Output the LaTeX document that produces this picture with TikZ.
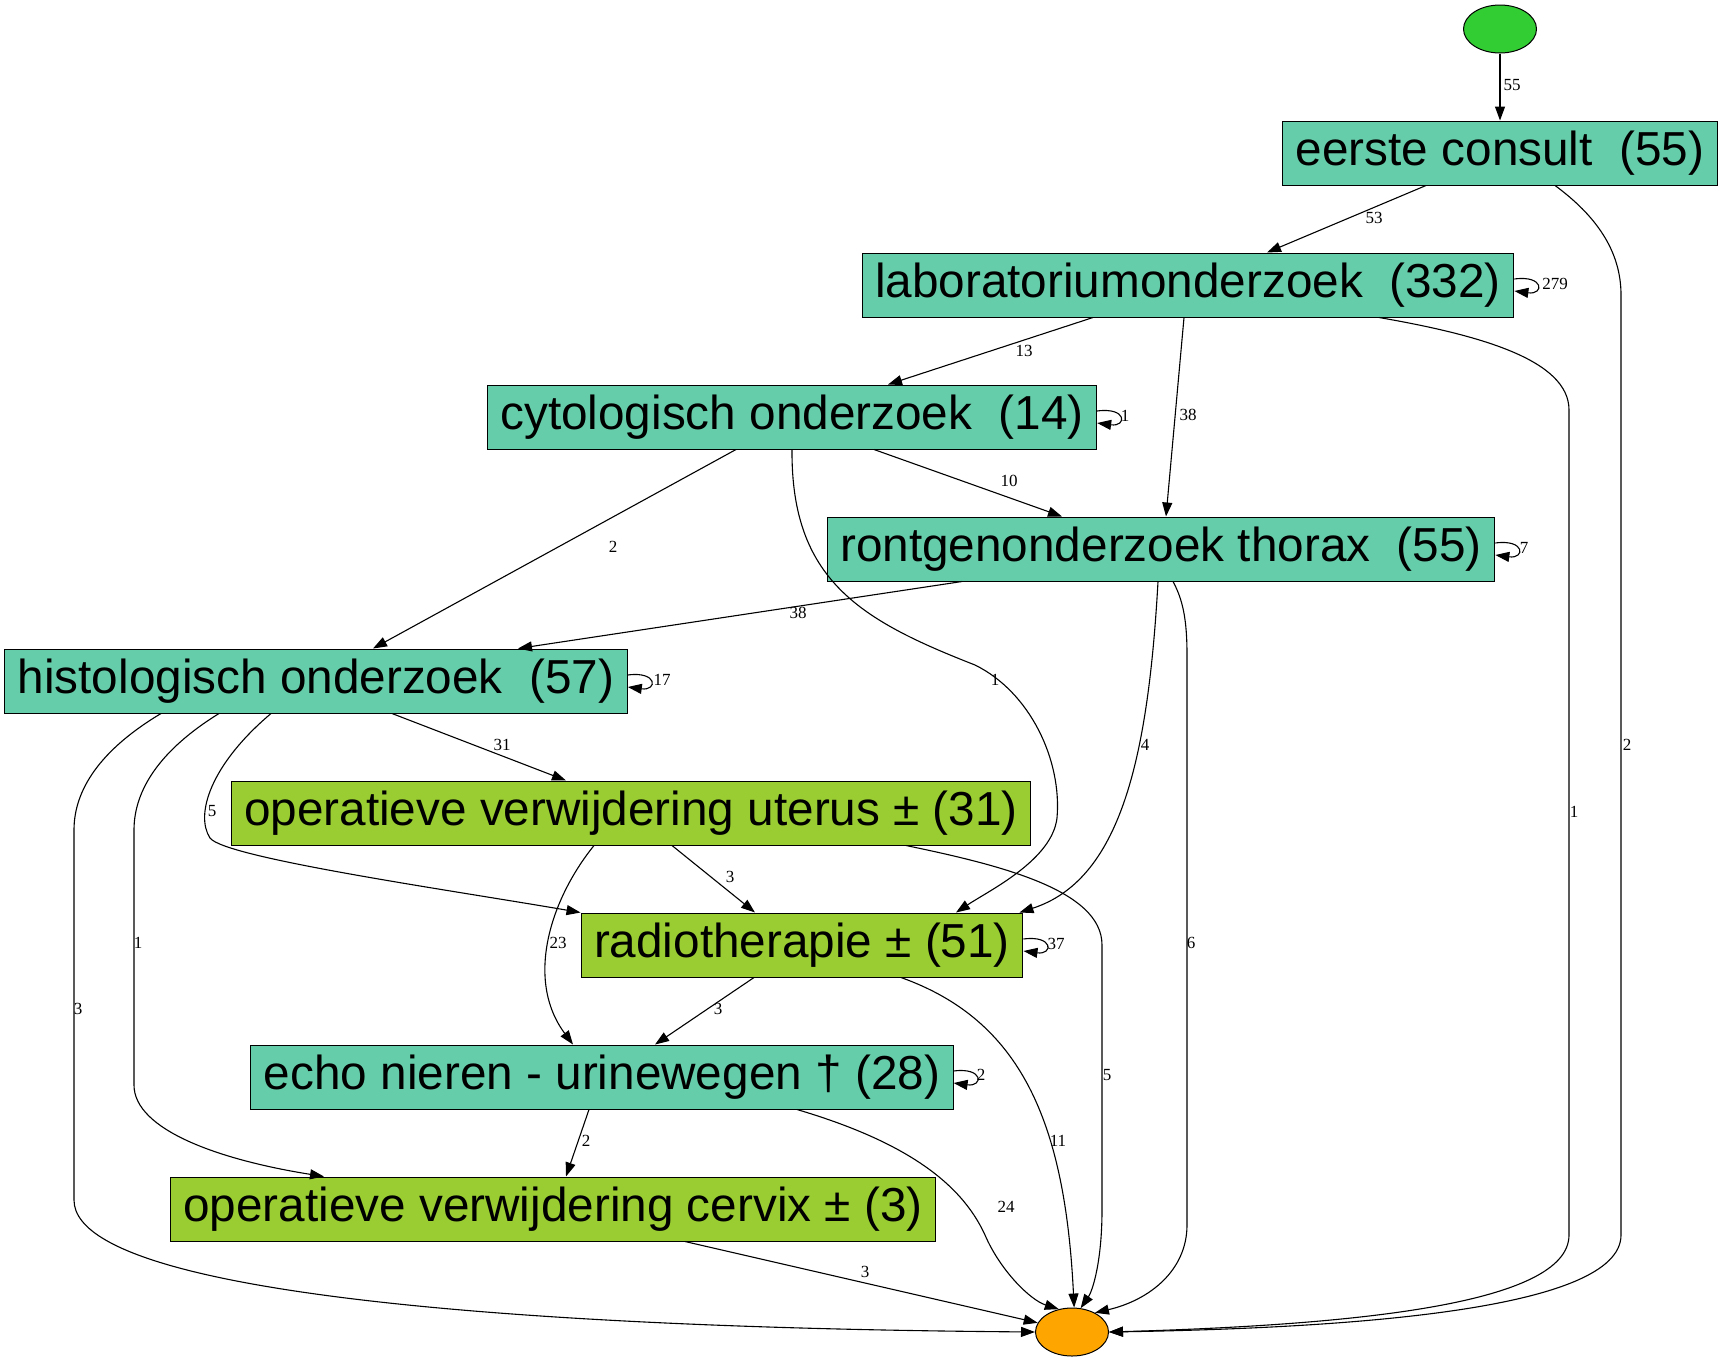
\documentclass[tikz,border=0pt]{standalone}
\usepackage{fontspec}
\setmainfont{Liberation Serif}
\newfontfamily\boxfont{Liberation Sans}
\usetikzlibrary{arrows.meta,shapes.geometric}

\definecolor{actteal}{HTML}{66CDAA}
\definecolor{treatgreen}{HTML}{9ACD32}
\definecolor{startgreen}{HTML}{32CD32}
\definecolor{finishorange}{HTML}{FFA500}

\tikzset{
  act/.style={draw=black, line width=1pt, fill=actteal,
    font=\boxfont\fontsize{47.7}{57}\selectfont,
    inner xsep=13pt, inner ysep=0pt, minimum height=64pt},
  treat/.style={act, fill=treatgreen},
  startn/.style={ellipse, draw=black, line width=1pt, fill=startgreen,
    minimum width=73pt, minimum height=48pt, inner sep=0pt},
  finishn/.style={startn, fill=finishorange},
  edge/.style={draw=black, line width=1.1pt, -{Triangle[length=14pt,width=10pt]}},
  lbl/.style={font=\fontsize{17}{17}\selectfont, inner sep=1pt},
}

\begin{document}
\begin{tikzpicture}[x=1pt, y=-1pt]
    \fill[white] (0,0) rectangle (1723,1363);
    \useasboundingbox (0,0) rectangle (1723,1363);
    % activities
    \node [startn]  (start)  at (1500, 29)  {};
    \node [act]     (eerste) at (1500, 153) {eerste consult~~(55)};
    \node [act]     (lab)    at (1188, 285) {laboratoriumonderzoek~~(332)};
    \node [act]     (cyto)   at (792, 417)  {cytologisch onderzoek~~(14)};
    \node [act]     (ront)   at (1161, 549) {rontgenonderzoek thorax~~(55)};
    \node [act]     (histo)  at (316, 681)  {histologisch onderzoek~~(57)};
    \node [treat]   (uterus) at (631, 813)  {operatieve verwijdering uterus ± (31)};
    \node [treat]   (radio)  at (802, 945)  {radiotherapie ± (51)};
    \node [act]     (echo)   at (602, 1077) {echo nieren - urinewegen † (28)};
    \node [treat]   (cervix) at (553, 1209) {operatieve verwijdering cervix ± (3)};
    \node [finishn] (finish) at (1072, 1332) {};
    % start
    \draw [edge] (start) -- (eerste) node [lbl] at (1512, 85) {55};
    % eerste consult
    \draw [edge] ([xshift=-74pt]eerste.south) -- ([xshift=79pt]lab.north) node [lbl] at (1374, 218) {53};
    \draw [edge] ([xshift=55pt]eerste.south) .. controls (1595, 215) and (1621, 250) .. (1621, 295)
      -- (1621, 1235) .. controls (1621, 1310) and (1350, 1328) .. (finish.east) node [lbl] at (1627, 745) {2};
    % laboratoriumonderzoek
    \draw [edge] ([yshift=6pt]lab.east) .. controls +(30, -4) and +(30, 4) .. ([yshift=-6pt]lab.east) node [lbl] at (1555, 284) {279};
    \draw [edge] ([xshift=-95pt]lab.south) -- ([xshift=96pt]cyto.north) node [lbl] at (1024, 351) {13};
    \draw [edge] ([xshift=-4pt]lab.south) -- ([xshift=5pt]ront.north) node [lbl] at (1188, 415) {38};
    \draw [edge] ([xshift=191pt]lab.south) .. controls (1480, 335) and (1569, 360) .. (1569, 410)
      -- (1569, 1235) .. controls (1569, 1305) and (1350, 1325) .. (finish.east) node [lbl] at (1574, 812) {1};
    % cytologisch onderzoek
    \draw [edge] ([yshift=6pt]cyto.east) .. controls +(30, -4) and +(30, 4) .. ([yshift=-6pt]cyto.east) node [lbl] at (1125, 416) {1};
    \draw [edge] ([xshift=82pt]cyto.south) -- ([xshift=-99pt]ront.north) node [lbl] at (1009, 481) {10};
    \draw [edge] ([xshift=-56pt]cyto.south) -- ([xshift=57pt]histo.north) node [lbl] at (613, 547) {2};
    \draw [edge] (cyto.south) .. controls (791, 580) and (860, 620) .. (975, 665)
      .. controls (1030, 692) and (1062, 760) .. (1057, 818)
      .. controls (1052, 860) and (990, 890) .. ([xshift=154pt]radio.north) node [lbl] at (995, 680) {1};
    % rontgenonderzoek thorax
    \draw [edge] ([yshift=6pt]ront.east) .. controls +(30, -4) and +(30, 4) .. ([yshift=-6pt]ront.east) node [lbl] at (1524, 548) {7};
    \draw [edge] ([xshift=-199pt]ront.south) -- ([xshift=202pt]histo.north) node [lbl] at (798, 613) {38};
    \draw [edge] ([xshift=-3pt]ront.south) .. controls (1148, 760) and (1120, 880) .. ([xshift=-4pt]radio.north east) node [lbl] at (1145, 745) {4};
    \draw [edge] ([xshift=12pt]ront.south) .. controls (1183, 600) and (1187, 620) .. (1187, 655)
      -- (1187, 1225) .. controls (1187, 1270) and (1150, 1300) .. (finish.40) node [lbl] at (1191, 943) {6};
    % histologisch onderzoek
    \draw [edge] ([yshift=6pt]histo.east) .. controls +(30, -4) and +(30, 4) .. ([yshift=-6pt]histo.east) node [lbl] at (662, 680) {17};
    \draw [edge] ([xshift=76pt]histo.south) -- ([xshift=-65pt]uterus.north) node [lbl] at (502, 745) {31};
    \draw [edge] ([xshift=-45pt]histo.south) .. controls (210, 765) and (195, 815) .. (210, 838)
      .. controls (225, 858) and (450, 890) .. (radio.north west) node [lbl] at (212, 811) {5};
    \draw [edge] ([xshift=-97pt]histo.south) .. controls (160, 750) and (134, 790) .. (134, 830)
      -- (134, 1085) .. controls (134, 1130) and (220, 1160) .. ([xshift=-229pt]cervix.north) node [lbl] at (138, 943) {1};
    \draw [edge] ([xshift=-155pt]histo.south) .. controls (100, 750) and (74, 790) .. (74, 830)
      -- (74, 1200) .. controls (74, 1320) and (800, 1330) .. (finish.west) node [lbl] at (78, 1009) {3};
    % operatieve verwijdering uterus
    \draw [edge] ([xshift=41pt]uterus.south) -- ([xshift=-47pt]radio.north) node [lbl] at (730, 877) {3};
    \draw [edge] ([xshift=-37pt]uterus.south) .. controls (550, 900) and (525, 980) .. ([xshift=-29pt]echo.north) node [lbl] at (558, 943) {23};
    \draw [edge] ([xshift=275pt]uterus.south) .. controls (1000, 865) and (1102, 890) .. (1102, 945)
      -- (1102, 1210) .. controls (1102, 1260) and (1093, 1290) .. (finish.70) node [lbl] at (1107, 1075) {5};
    % radiotherapie
    \draw [edge] ([yshift=6pt]radio.east) .. controls +(30, -4) and +(30, 4) .. ([yshift=-6pt]radio.east) node [lbl] at (1056, 944) {37};
    \draw [edge] ([xshift=-48pt]radio.south) -- ([xshift=53pt]echo.north) node [lbl] at (718, 1009) {3};
    \draw [edge] ([xshift=99pt]radio.south) .. controls (1020, 1020) and (1065, 1120) .. (finish.85) node [lbl] at (1058, 1141) {11};
    % echo nieren - urinewegen
    \draw [edge] ([yshift=6pt]echo.east) .. controls +(30, -4) and +(30, 4) .. ([yshift=-6pt]echo.east) node [lbl] at (981, 1075) {2};
    \draw [edge] ([xshift=-13pt]echo.south) -- ([xshift=13pt]cervix.north) node [lbl] at (586, 1141) {2};
    \draw [edge] ([xshift=195pt]echo.south) .. controls (900, 1140) and (960, 1180) .. (985, 1235)
      .. controls (1000, 1270) and (1030, 1300) .. (finish.120) node [lbl] at (1006, 1207) {24};
    % operatieve verwijdering cervix
    \draw [edge] ([xshift=132pt]cervix.south) -- (finish.165) node [lbl] at (865, 1272) {3};
  \end{tikzpicture}
\end{document}
